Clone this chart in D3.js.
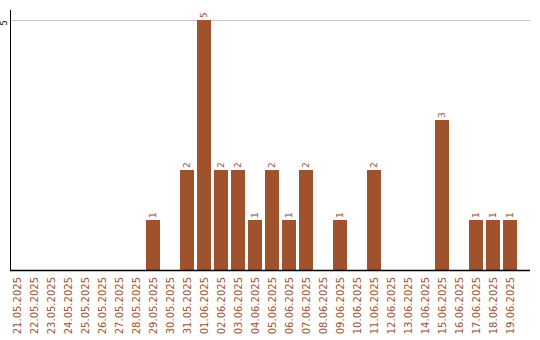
<!DOCTYPE html>
<html>
<head>
<meta charset="utf-8">
<script src="https://cdn.jsdelivr.net/npm/d3@7"></script>
<style>
  body { margin: 0; background: #fff; }
  svg { display: block; font-family: "DejaVu Sans", sans-serif; }
</style>
</head>
<body>
<svg></svg>
<script>
const dates = ['21.05.2025','22.05.2025','23.05.2025','24.05.2025','25.05.2025','26.05.2025',
  '27.05.2025','28.05.2025','29.05.2025','30.05.2025','31.05.2025','01.06.2025','02.06.2025',
  '03.06.2025','04.06.2025','05.06.2025','06.06.2025','07.06.2025','08.06.2025','09.06.2025',
  '10.06.2025','11.06.2025','12.06.2025','13.06.2025','14.06.2025','15.06.2025','16.06.2025',
  '17.06.2025','18.06.2025','19.06.2025'];
const counts = [0,0,0,0,0,0,0,0,1,0,2,5,2,2,1,2,1,2,0,1,0,2,0,0,0,3,0,1,1,1];
const yTicks = [5];

const size = {w: 540, h: 340};
const color = '#a0522d';
const svg = d3.select('svg').attr('width', size.w).attr('height', size.h);

const data = dates.map((d, i) => ({date: d, value: counts[i]}));

const x = d3.scaleBand()
    .domain(dates)
    .range([8.5, 518.5])
    .paddingInner(3/17)
    .paddingOuter(1.5/17);

const y = d3.scaleLinear().domain([0, 5]).range([270, 20]);

// grid line at 5
svg.append('g').selectAll('line')
    .data(yTicks)
    .join('line')
    .attr('x1', 11).attr('x2', 530)
    .attr('y1', d => y(d) + 0.5).attr('y2', d => y(d) + 0.5)
    .attr('stroke', '#c8c8c8');

svg.append('g').selectAll('text')
    .data(yTicks)
    .join('text')
    .attr('transform', d => `translate(7, ${y(d) + 0.5}) rotate(-90)`)
    .attr('text-anchor', 'end')
    .attr('font-size', 8)
    .attr('fill', '#000')
    .text(d => d);

// bars
svg.append('g').selectAll('rect')
    .data(data.filter(d => d.value > 0))
    .join('rect')
    .attr('x', d => x(d.date))
    .attr('y', d => y(d.value))
    .attr('width', x.bandwidth())
    .attr('height', d => y(0) - y(d.value))
    .attr('fill', color);

// value labels
svg.append('g').selectAll('text')
    .data(data.filter(d => d.value > 0))
    .join('text')
    .attr('transform', d => `translate(${x(d.date) + x.bandwidth()/2}, ${y(d.value) - 2}) rotate(-90)`)
    .attr('dy', '0.35em')
    .attr('font-size', 9)
    .attr('fill', color)
    .text(d => d.value);

// axes lines
svg.append('line')
    .attr('x1', 10.5).attr('x2', 10.5)
    .attr('y1', 10).attr('y2', 270.5)
    .attr('stroke', '#000');
svg.append('line')
    .attr('x1', 10).attr('x2', 530)
    .attr('y1', 270.5).attr('y2', 270.5)
    .attr('stroke', '#000').attr('stroke-width', 1.5);

// date labels
svg.append('g').selectAll('text')
    .data(dates)
    .join('text')
    .attr('transform', d => `translate(${x(d) + x.bandwidth()/2}, 277) rotate(-90)`)
    .attr('text-anchor', 'end')
    .attr('dy', '0.35em')
    .attr('font-size', 10)
    .attr('fill', color)
    .text(d => d);
</script>
</body>
</html>
